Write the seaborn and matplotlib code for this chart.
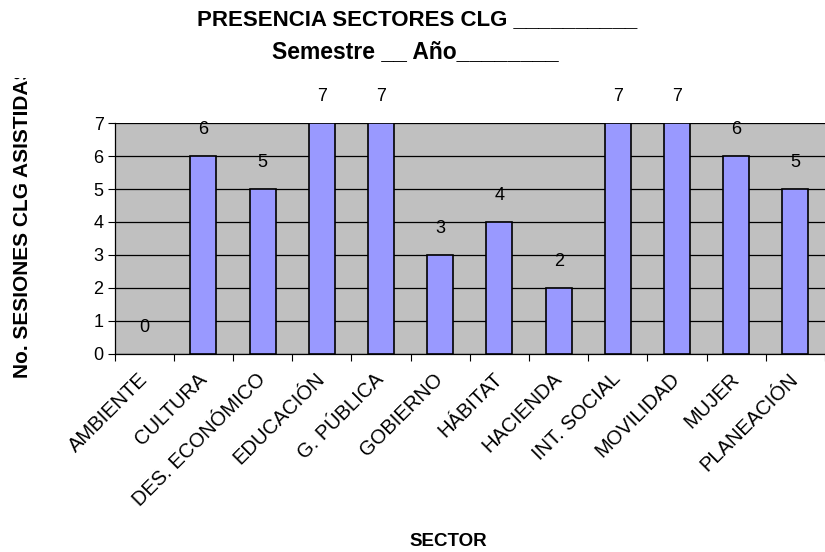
import matplotlib
matplotlib.use("Agg")
import matplotlib.pyplot as plt
import seaborn as sns
import pandas as pd
from matplotlib.transforms import Bbox, TransformedBbox

sectores = ["AMBIENTE", "CULTURA", "DES. ECONÓMICO", "EDUCACIÓN", "G. PÚBLICA",
            "GOBIERNO", "HÁBITAT", "HACIENDA", "INT. SOCIAL", "MOVILIDAD",
            "MUJER", "PLANEACIÓN"]
sesiones = [0, 6, 5, 7, 7, 3, 4, 2, 7, 7, 6, 5]

df = pd.DataFrame({"sector": sectores, "sesiones": sesiones})

sns.set_theme(style="white")
plt.rcParams["font.family"] = ["Liberation Sans", "DejaVu Sans"]
plt.rcParams["text.color"] = "black"
plt.rcParams["xtick.color"] = "black"
plt.rcParams["ytick.color"] = "black"
plt.rcParams["axes.labelcolor"] = "black"

fig = plt.figure(figsize=(8.25, 5.52), dpi=100)
ax = fig.add_axes([0.139, 0.359, 0.861, 0.418])
ax.set_facecolor("#c0c0c0")

sns.barplot(data=df, x="sector", y="sesiones", color="#9999ff", width=0.44,
            edgecolor="black", linewidth=1.2, saturation=1, ax=ax, zorder=3)
# a zero-height bar leaves no visible mark
for p in ax.patches:
    if p.get_height() == 0:
        p.set_visible(False)

ax.set_ylim(0, 7)
ax.set_xlim(-0.5, len(sectores) - 0.5)
ax.set_yticks(range(0, 8))
ax.yaxis.grid(True, color="black", linewidth=0.9, zorder=1)
ax.set_axisbelow(True)

for i, v in enumerate(sesiones):
    ax.annotate(str(v), (i, v), xytext=(0, 13), textcoords="offset points",
                ha="center", va="bottom", fontsize=13, annotation_clip=False)

# ticks at category boundaries on x
ax.set_xticks([i - 0.5 for i in range(len(sectores) + 1)], minor=False)
ax.set_xticklabels([""] * (len(sectores) + 1))
ax.set_xticks(range(len(sectores)), minor=True)
ax.set_xticklabels(sectores, minor=True, rotation=45, ha="right", va="center",
                   rotation_mode="anchor", fontsize=14.5)
ax.tick_params(axis="x", which="major", length=5, width=0.8, color="black", direction="out", bottom=True)
ax.tick_params(axis="x", which="minor", length=0, pad=16)
ax.tick_params(axis="y", length=5, width=0.8, color="black", direction="out", left=True,
               labelsize=13, pad=3)

for side in ["top", "right"]:
    ax.spines[side].set_visible(False)
ax.spines["left"].set_color("black")
ax.spines["bottom"].set_color("black")
ax.spines["left"].set_linewidth(0.9)
ax.spines["bottom"].set_linewidth(0.9)

ax.set_xlabel("")
ax.set_ylabel("")

fig.text(417 / 825, 1 - 20 / 552, "PRESENCIA SECTORES CLG __________", ha="center", va="center",
         fontsize=16, fontweight="bold")
fig.text(415 / 825, 1 - 52 / 552, "Semestre __ Año________", ha="center", va="center",
         fontsize=16.5, fontweight="bold")
fig.text(448 / 825, 1 - 541 / 552, "SECTOR", ha="center", va="center",
         fontsize=13.5, fontweight="bold")
yl = fig.text(23 / 825, 1 - 378 / 552, "No. SESIONES CLG ASISTIDAS", rotation=90,
              ha="center", va="bottom", fontsize=15, fontweight="bold")
yl.set_clip_box(TransformedBbox(Bbox([[0, 0], [1, 1 - 78 / 552]]), fig.transFigure))
yl.set_clip_on(True)

fig.savefig("out.png", dpi=100)
